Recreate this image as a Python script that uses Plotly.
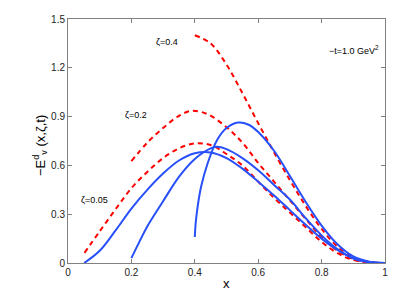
import plotly.graph_objects as go

# zeta = 0.05
x_b005 = [0.051, 0.1, 0.15, 0.2, 0.25, 0.3, 0.35, 0.4, 0.45, 0.5, 0.55, 0.6, 0.65, 0.7, 0.75, 0.8, 0.85, 0.9, 0.95, 1.0]
y_b005 = [0.0, 0.075, 0.2, 0.335, 0.45, 0.55, 0.63, 0.675, 0.68, 0.645, 0.58, 0.5, 0.415, 0.325, 0.235, 0.15, 0.08, 0.03, 0.006, 0.0]
x_r005 = [0.052, 0.1, 0.15, 0.2, 0.25, 0.3, 0.35, 0.4, 0.45, 0.5, 0.55, 0.6, 0.65, 0.7, 0.75, 0.8, 0.85, 0.9, 0.95, 1.0]
y_r005 = [0.062, 0.195, 0.33, 0.46, 0.56, 0.645, 0.705, 0.735, 0.725, 0.67, 0.6, 0.5, 0.4, 0.31, 0.22, 0.13, 0.06, 0.018, 0.003, 0.0]

# zeta = 0.2
x_b02 = [0.2, 0.225, 0.25, 0.3, 0.35, 0.4, 0.45, 0.47, 0.5, 0.55, 0.6, 0.65, 0.7, 0.75, 0.8, 0.85, 0.9, 0.95, 1.0]
y_b02 = [0.03, 0.13, 0.225, 0.38, 0.53, 0.64, 0.705, 0.714, 0.70, 0.645, 0.57, 0.48, 0.39, 0.275, 0.17, 0.085, 0.028, 0.005, 0.0]
x_r02 = [0.2, 0.25, 0.3, 0.35, 0.39, 0.44, 0.5, 0.55, 0.6, 0.65, 0.7, 0.75, 0.8, 0.85, 0.9, 0.95, 1.0]
y_r02 = [0.626, 0.74, 0.83, 0.905, 0.935, 0.915, 0.835, 0.74, 0.615, 0.5, 0.385, 0.27, 0.16, 0.075, 0.025, 0.004, 0.0]

# zeta = 0.4
x_b04 = [0.4, 0.403, 0.41, 0.42, 0.44, 0.47, 0.5, 0.537, 0.57, 0.6, 0.65, 0.7, 0.75, 0.8, 0.85, 0.9, 0.95, 1.0]
y_b04 = [0.16, 0.25, 0.36, 0.47, 0.61, 0.755, 0.83, 0.864, 0.85, 0.805, 0.69, 0.535, 0.375, 0.23, 0.115, 0.04, 0.008, 0.0]
x_r04 = [0.4, 0.45, 0.5, 0.55, 0.6, 0.65, 0.7, 0.75, 0.8, 0.85, 0.9, 0.95, 1.0]
y_r04 = [1.40, 1.35, 1.22, 1.045, 0.86, 0.68, 0.51, 0.35, 0.21, 0.1, 0.035, 0.006, 0.0]

x_ticks = [0, 0.2, 0.4, 0.6, 0.8, 1.0]
x_ticklabels = ["0", "0.2", "0.4", "0.6", "0.8", "1"]
y_ticks = [0, 0.3, 0.6, 0.9, 1.2, 1.5]
y_ticklabels = ["0", "0.3", "0.6", "0.9", "1.2", "1.5"]

labels = [("ζ=0.4", 0.313, 1.358), ("ζ=0.2", 0.215, 0.91), ("ζ=0.05", 0.084, 0.39), ("−t=1.0 GeV<sup>2</sup>", 0.902, 1.31)]

BLUE = "rgb(40,80,250)"
RED = "rgb(255,0,0)"
FONT = "Liberation Sans"

fig = go.Figure()
for xs, ys in [(x_r005, y_r005), (x_r02, y_r02), (x_r04, y_r04)]:
    fig.add_trace(go.Scatter(x=xs, y=ys, mode="lines", line=dict(color=RED, width=2, dash="5px,4px", shape="spline", smoothing=1.0), showlegend=False))
for xs, ys in [(x_b005, y_b005), (x_b02, y_b02), (x_b04, y_b04)]:
    fig.add_trace(go.Scatter(x=xs, y=ys, mode="lines", line=dict(color=BLUE, width=2, shape="spline", smoothing=1.0), showlegend=False))

for txt, xv, yv in labels:
    fig.add_annotation(x=xv, y=yv, text=txt, showarrow=False, font=dict(size=9, color="black", family=FONT), xanchor="center", yanchor="middle")

fig.add_annotation(xref="paper", yref="paper", x=-0.088, y=0.48, text="−E<sup>d</sup><sub>v</sub> (x,ζ,t)", textangle=-90,
                   showarrow=False, font=dict(size=13, family=FONT, color="black"), xanchor="center", yanchor="middle")
fig.add_annotation(xref="paper", yref="paper", x=0.5, y=-0.083, text="x", showarrow=False,
                   font=dict(size=13, family=FONT, color="black"), xanchor="center", yanchor="middle")

axis_common = dict(showline=True, linecolor="#808080", linewidth=1, mirror="ticks", ticks="inside", ticklen=4, tickcolor="#808080",
                   showgrid=False, zeroline=False, automargin=False, tickfont=dict(size=10, color="#222", family=FONT))
fig.update_xaxes(range=[0, 1], tickvals=x_ticks, ticktext=x_ticklabels, **axis_common)
fig.update_yaxes(range=[0, 1.5], tickvals=y_ticks, ticktext=y_ticklabels, **axis_common)

# page body adds an 8px offset, so the figure is 8px smaller and margins shifted
fig.update_layout(width=401, height=292, margin=dict(l=60, r=24, t=11, b=37, autoexpand=False), plot_bgcolor="white", paper_bgcolor="white")
fig.write_html("out.html")
